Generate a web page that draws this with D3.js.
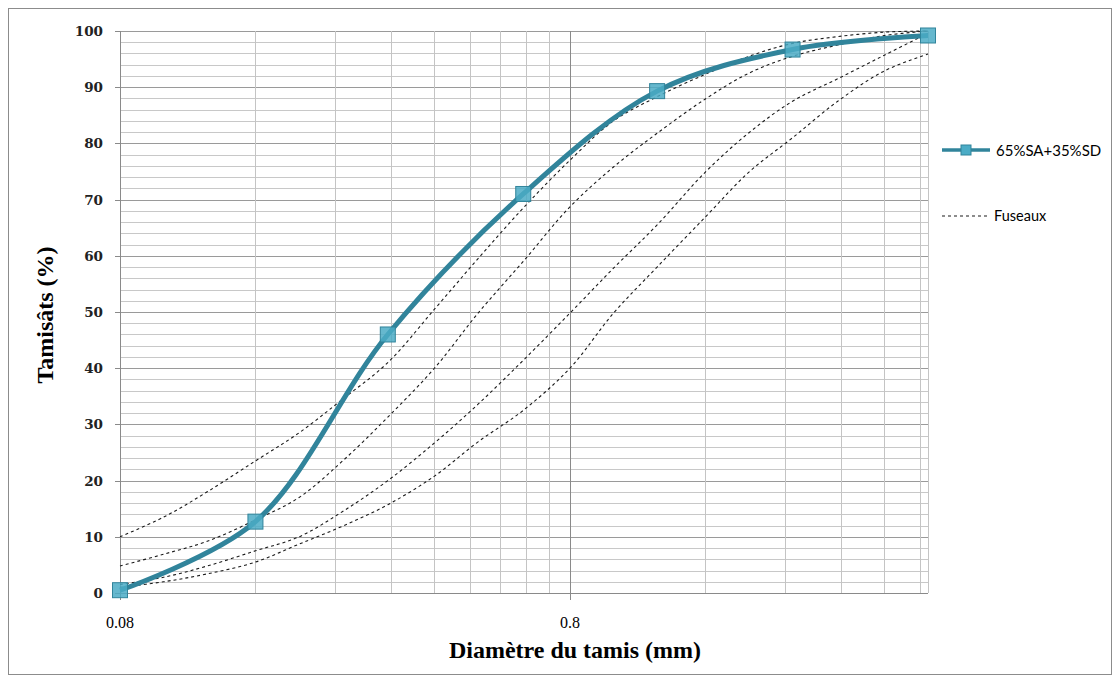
<!DOCTYPE html>
<html>
<head>
<meta charset="UTF-8">
<script src="https://d3js.org/d3.v7.min.js"></script>
<style>
  body { margin: 0; background: #fff; }
</style>
</head>
<body>
<script>
// sieve sizes (mm) of the mix and its passing percentages
var sieves = [0.08, 0.16, 0.315, 0.63, 1.25, 2.5, 5];
var mix = [0.5, 12.7, 46, 71, 89.3, 96.7, 99.2];

// the four limits of the "fuseaux"
var fuseauSieves = [0.08, 0.1, 0.125, 0.16, 0.2, 0.25, 0.315, 0.4, 0.5, 0.63, 0.8, 1, 1.25, 1.6, 2, 2.5, 3.15, 4, 5];
var fuseauA = [10, 13.5, 18, 23.5, 28.5, 34.5, 41, 50.5, 59.5, 68.5, 77, 84, 88.3, 92.3, 95.5, 97.8, 99, 99.8, 100];
var fuseauB = [4.8, 6.9, 9.2, 13, 17, 23.5, 31.3, 40, 49.8, 59, 68.7, 75.8, 81.8, 87.9, 92.5, 95.5, 97.5, 99.2, 100];
var fuseauC = [1.5, 2.8, 4.8, 7.5, 10, 14.5, 20, 26.7, 33.6, 41.4, 49.8, 57.8, 65.5, 74.9, 81.9, 87.5, 91.5, 95.7, 99.6];
var fuseauD = [1, 2, 3.4, 5.5, 8.7, 11.9, 15.7, 20.8, 26.9, 32.5, 40, 49.8, 58, 66.9, 74.9, 81, 87.5, 92.9, 95.9];

var yTicks = [0, 10, 20, 30, 40, 50, 60, 70, 80, 90, 100];
var xLabels = [0.08, 0.8];

var W = 1117, H = 682;
var pLeft = 120, pRight = 928, pTop = 31, pBottom = 593;

var svg = d3.select("body").append("svg")
    .attr("width", W)
    .attr("height", H);

// outer chart frame
svg.append("rect")
    .attr("x", 8.5).attr("y", 8.5)
    .attr("width", W - 14).attr("height", H - 16)
    .attr("fill", "#fff")
    .attr("stroke", "#8c8c8c");

var x = d3.scaleLog().domain([0.08, 5]).range([pLeft, pRight]);
var y = d3.scaleLinear().domain([0, 100]).range([pBottom, pTop]);

// grid: horizontal every 2, darker every 10
var g = svg.append("g");
d3.range(0, 101, 2).forEach(function (v) {
  g.append("line")
    .attr("x1", pLeft).attr("x2", pRight)
    .attr("y1", Math.round(y(v)) + 0.5).attr("y2", Math.round(y(v)) + 0.5)
    .attr("stroke", v % 10 == 0 ? "#9a9a9a" : "#c8c8c8")
    .attr("stroke-width", 1);
});

// vertical log grid, based on 0.08
var vLines = d3.range(1, 10).map(function (k) { return 0.08 * k; })
  .concat(d3.range(1, 10).map(function (k) { return 0.8 * k; }).filter(function (v) { return v < 5; }));
vLines.forEach(function (v) {
  var major = Math.abs(v - 0.8) < 1e-9;
  g.append("line")
    .attr("x1", Math.round(x(v)) + 0.5).attr("x2", Math.round(x(v)) + 0.5)
    .attr("y1", pTop).attr("y2", pBottom)
    .attr("stroke", major ? "#8a8a8a" : "#c4c4c4");
});
// right border of plot area
g.append("line")
  .attr("x1", pRight + 0.5).attr("x2", pRight + 0.5)
  .attr("y1", pTop).attr("y2", pBottom)
  .attr("stroke", "#c4c4c4");

// axes lines
svg.append("line")
  .attr("x1", pLeft + 0.5).attr("x2", pLeft + 0.5)
  .attr("y1", pTop).attr("y2", pBottom)
  .attr("stroke", "#8a8a8a");
svg.append("line")
  .attr("x1", pLeft).attr("x2", pRight)
  .attr("y1", pBottom + 0.5).attr("y2", pBottom + 0.5)
  .attr("stroke", "#8a8a8a");

// x major ticks
xLabels.forEach(function (v) {
  svg.append("line")
    .attr("x1", Math.round(x(v)) + 0.5).attr("x2", Math.round(x(v)) + 0.5)
    .attr("y1", pBottom).attr("y2", pBottom + 7)
    .attr("stroke", "#8a8a8a");
  svg.append("text")
    .attr("x", x(v)).attr("y", 628)
    .attr("text-anchor", "middle")
    .attr("font-family", "Liberation Serif")
    .attr("font-size", 16)
    .text(v);
});

// y labels
yTicks.forEach(function (v) {
  svg.append("line")
    .attr("x1", pLeft - 5).attr("x2", pLeft)
    .attr("y1", Math.round(y(v)) + 0.5).attr("y2", Math.round(y(v)) + 0.5)
    .attr("stroke", "#8a8a8a");
  svg.append("text")
    .attr("x", 103).attr("y", y(v) + 5)
    .attr("text-anchor", "end")
    .attr("font-family", "DejaVu Serif")
    .attr("font-weight", "bold")
    .attr("font-size", 13.5)
    .attr("fill", "#222")
    .text(v);
});

// axis titles
svg.append("text")
  .attr("x", 575).attr("y", 658)
  .attr("text-anchor", "middle")
  .attr("font-family", "Liberation Serif")
  .attr("font-weight", "bold")
  .attr("font-size", 24)
  .text("Diamètre du tamis (mm)");

svg.append("text")
  .attr("transform", "translate(53,315) rotate(-90)")
  .attr("text-anchor", "middle")
  .attr("font-family", "Liberation Serif")
  .attr("font-weight", "bold")
  .attr("font-size", 24)
  .text("Tamisâts (%)");

// fuseaux curves
var line = d3.line()
  .x(function (d) { return x(d[0]); })
  .y(function (d) { return y(d[1]); })
  .curve(d3.curveCatmullRom.alpha(0.5));

[fuseauA, fuseauB, fuseauC, fuseauD].forEach(function (vals) {
  svg.append("path")
    .datum(d3.zip(fuseauSieves, vals))
    .attr("d", line)
    .attr("fill", "none")
    .attr("stroke", "#1a1a1a")
    .attr("stroke-width", 1.1)
    .attr("stroke-dasharray", "3,3");
});

// mix curve
var mixData = d3.zip(sieves, mix);
svg.append("path")
  .datum(mixData)
  .attr("d", line)
  .attr("fill", "none")
  .attr("stroke", "#31849b")
  .attr("stroke-width", 5);

svg.selectAll(".mk")
  .data(mixData)
  .enter().append("rect")
  .attr("class", "mk")
  .attr("x", function (d) { return x(d[0]) - 7.5; })
  .attr("y", function (d) { return y(d[1]) - 7.5; })
  .attr("width", 15).attr("height", 15)
  .attr("fill", "#4bacc6")
  .attr("fill-opacity", 0.85)
  .attr("stroke", "#31849b")
  .attr("stroke-width", 1);

// legend
var lg = svg.append("g");
lg.append("line")
  .attr("x1", 942).attr("x2", 990).attr("y1", 150).attr("y2", 150)
  .attr("stroke", "#31849b").attr("stroke-width", 3.5);
lg.append("rect")
  .attr("x", 961).attr("y", 145).attr("width", 10).attr("height", 10)
  .attr("fill", "#4bacc6").attr("stroke", "#31849b");
lg.append("text")
  .attr("x", 996).attr("y", 156)
  .attr("font-family", "Lato")
  .attr("font-size", 15)
  .text("65%SA+35%SD");

lg.append("line")
  .attr("x1", 942).attr("x2", 990).attr("y1", 216).attr("y2", 216)
  .attr("stroke", "#1a1a1a").attr("stroke-width", 1.1)
  .attr("stroke-dasharray", "3,3");
lg.append("text")
  .attr("x", 994).attr("y", 221)
  .attr("font-family", "Lato")
  .attr("font-size", 14.5)
  .text("Fuseaux");
</script>
</body>
</html>
